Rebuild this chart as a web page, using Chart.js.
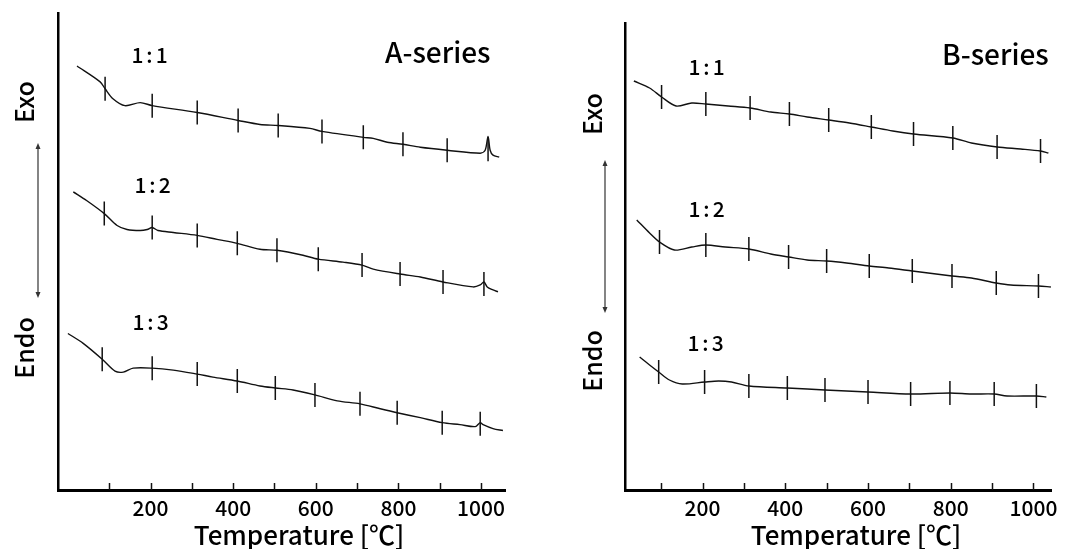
<!DOCTYPE html>
<html>
<head>
<meta charset="utf-8">
<script src="https://cdn.jsdelivr.net/npm/chart.js@4.4.1/dist/chart.umd.min.js"></script>
<style>
  html, body { margin: 0; padding: 0; background: #fff; }
  #wrap { position: relative; width: 1069px; height: 549px; overflow: hidden; }
  canvas { position: absolute; top: 0; }
  #cA { left: 0; }
  #cB { left: 535px; }
</style>
</head>
<body>
<div id="wrap">
  <canvas id="cA" width="535" height="549"></canvas>
  <canvas id="cB" width="534" height="549"></canvas>
</div>
<script>
// DTA curves, temperature in °C, signal in arbitrary units (curves offset vertically)
const X_TICKS = [100, 200, 300, 400, 500, 600, 700, 800, 900, 1000];
const X_LABELS = ['', '200', '', '400', '', '600', '', '800', '', '1000'];

// A-series
const A11_T = [22, 78, 90, 109, 138, 175, 204, 313, 412, 465, 509, 586, 615, 715, 739, 773, 811, 853, 918, 998, 1010, 1017, 1022, 1029, 1044];
const A11_Y = [428, 412, 405, 395, 388, 391, 388, 381, 373, 369, 368, 365, 362, 356, 355, 351, 349, 346, 343, 340, 343, 357, 343, 338, 336];
const A11_MARK_T = [90, 204, 313, 412, 509, 615, 715, 811, 918, 1017];
const A11_MARK_Y = [405, 388, 381, 373, 368, 362, 356, 349, 343, 344];

const A12_T = [13, 46, 88, 119, 143, 175, 192, 204, 218, 255, 313, 361, 410, 465, 506, 569, 606, 666, 712, 739, 804, 853, 908, 981, 998, 1007, 1015, 1029, 1041];
const A12_Y = [301, 292, 279, 267, 263, 262, 263, 265, 262, 260, 257, 253, 249, 243, 242, 237, 233, 230, 227, 223, 218, 215, 210, 205, 207, 210, 205, 202, 200];
const A12_MARK_T = [88, 204, 313, 410, 506, 606, 712, 804, 908, 1007];
const A12_MARK_Y = [279, 265, 257, 249, 242, 233, 227, 218, 210, 208];

const A13_T = [0, 37, 83, 114, 134, 158, 204, 255, 313, 351, 410, 465, 502, 545, 598, 652, 707, 756, 797, 853, 906, 949, 986, 998, 1005, 1029, 1053];
const A13_Y = [158, 148, 132, 120, 119, 123, 123, 121, 117, 114, 110, 105, 103, 101, 96, 90, 87, 82, 78, 73, 68, 66, 64, 68, 66, 62, 60];
const A13_MARK_T = [83, 204, 313, 410, 502, 598, 707, 797, 906, 998];
const A13_MARK_Y = [132, 123, 117, 110, 103, 96, 87, 78, 68, 67];

// B-series
const B11_T = [34, 72, 101, 136, 174, 208, 262, 315, 365, 410, 453, 505, 555, 608, 660, 710, 805, 850, 912, 969, 1017, 1036];
const B11_Y = [409, 402, 393, 384, 387, 386, 384, 382, 378, 376, 373, 370, 367, 363, 359, 356, 352, 347, 343, 341, 339, 337];
const B11_MARK_T = [101, 208, 315, 410, 505, 608, 710, 805, 912, 1017];
const B11_MARK_Y = [393, 386, 382, 376, 370, 363, 356, 352, 343, 339];

const B12_T = [41, 72, 96, 132, 174, 208, 255, 312, 365, 408, 453, 500, 548, 603, 650, 707, 803, 850, 910, 945, 1012, 1042];
const B12_Y = [270, 257, 248, 240, 243, 245, 243, 241, 236, 233, 230, 229, 227, 224, 222, 219, 214, 212, 207, 205, 204, 203];
const B12_MARK_T = [96, 208, 312, 408, 500, 603, 707, 803, 910, 1012];
const B12_MARK_Y = [248, 245, 241, 233, 229, 224, 219, 214, 207, 204];

const B13_T = [48, 72, 94, 120, 151, 205, 239, 270, 312, 405, 453, 496, 600, 703, 798, 850, 905, 936, 1007, 1031];
const B13_Y = [133, 125, 118, 110, 106, 108, 109, 108, 104, 102, 101, 100, 98, 96, 97, 96, 96, 94, 94, 93];
const B13_MARK_T = [94, 205, 312, 405, 496, 600, 703, 798, 905, 1007];
const B13_MARK_Y = [118, 108, 104, 102, 100, 98, 96, 97, 96, 94];

const FONT = '"Noto Sans CJK JP", "Noto Sans", sans-serif';
const INK = '#111';

const zip = (xs, ys) => xs.map((x, i) => ({ x, y: ys[i] }));

function curve(t, y) {
  return {
    data: zip(t, y),
    borderColor: INK,
    borderWidth: 1.4,
    pointRadius: 0,
    tension: 0.3,
    fill: false,
  };
}

function marks(t, y) {
  return {
    data: zip(t, y),
    showLine: false,
    pointStyle: 'line',
    rotation: 90,
    pointRadius: 12,
    borderColor: INK,
    borderWidth: 1.5,
  };
}

// texts, Exo/Endo arrow and inward x ticks drawn on top of the chart
function decor(cfg) {
  return {
    id: 'decor',
    afterDraw(chart) {
      const ctx = chart.ctx;
      const xs = chart.scales.x;
      const bottom = chart.chartArea.bottom;
      ctx.save();
      ctx.strokeStyle = INK;
      ctx.lineWidth = 1.5;
      xs.ticks.forEach(t => {
        const px = Math.round(xs.getPixelForValue(t.value)) + 0.5;
        ctx.beginPath();
        ctx.moveTo(px, bottom);
        ctx.lineTo(px, bottom - 7);
        ctx.stroke();
      });

      ctx.fillStyle = '#000';
      cfg.labels.forEach(l => {
        ctx.save();
        ctx.font = l.font;
        ctx.letterSpacing = l.spacing || '0px';
        ctx.textAlign = l.align || 'center';
        ctx.textBaseline = 'middle';
        ctx.translate(l.x, l.y);
        if (l.rot) ctx.rotate(l.rot);
        ctx.fillText(l.text, 0, 0);
        ctx.restore();
      });

      const a = cfg.arrow;
      ctx.strokeStyle = '#333';
      ctx.fillStyle = '#333';
      ctx.lineWidth = 1.2;
      ctx.beginPath();
      ctx.moveTo(a.x, a.y1 + 4);
      ctx.lineTo(a.x, a.y2 - 4);
      ctx.stroke();
      ctx.beginPath();
      ctx.moveTo(a.x, a.y1); ctx.lineTo(a.x - 2.5, a.y1 + 6); ctx.lineTo(a.x + 2.5, a.y1 + 6);
      ctx.closePath(); ctx.fill();
      ctx.beginPath();
      ctx.moveTo(a.x, a.y2); ctx.lineTo(a.x - 2.5, a.y2 - 6); ctx.lineTo(a.x + 2.5, a.y2 - 6);
      ctx.closePath(); ctx.fill();
      ctx.restore();
    },
  };
}

function makeChart(id, datasets, o) {
  return new Chart(document.getElementById(id), {
    type: 'line',
    data: { datasets },
    options: {
      responsive: false,
      animation: false,
      events: [],
      layout: { padding: { top: o.padTop, right: o.padRight, left: 0, bottom: 0 } },
      plugins: { legend: { display: false }, tooltip: { enabled: false } },
      scales: {
        x: {
          type: 'linear',
          min: o.xMin,
          max: o.xMax,
          afterBuildTicks: s => { s.ticks = X_TICKS.map(v => ({ value: v })); },
          afterFit: s => { s.height = 59; },
          grid: { display: false, drawTicks: true, tickLength: -6 },
          border: { display: true, color: '#000', width: 3 },
          ticks: {
            color: '#000',
            padding: 11,
            maxRotation: 0,
            autoSkip: false,
            font: { family: FONT, size: 21, weight: '500' },
            callback: (v, i) => X_LABELS[i],
          },
        },
        y: {
          type: 'linear',
          min: 0,
          max: o.yMax,
          afterFit: s => { s.width = o.yWidth; },
          grid: { display: false },
          border: { display: true, color: '#000', width: 2.5 },
          ticks: { display: false },
        },
      },
    },
    plugins: [decor(o.decor)],
  });
}

const F_SMALL = `500 21px ${FONT}`;
const F_SIDE = `500 25px ${FONT}`;
const F_TITLE = `500 28px ${FONT}`;
const F_AXIS = `500 26px ${FONT}`;

makeChart('cA', [
  curve(A11_T, A11_Y), marks(A11_MARK_T, A11_MARK_Y),
  curve(A12_T, A12_Y), marks(A12_MARK_T, A12_MARK_Y),
  curve(A13_T, A13_Y), marks(A13_MARK_T, A13_MARK_Y),
], {
  xMin: -24, xMax: 1058, yMax: 481, yWidth: 58, padTop: 9, padRight: 30,
  decor: {
    labels: [
      { text: '1:1', x: 151, y: 55, font: F_SMALL, spacing: '3px' },
      { text: '1:2', x: 154, y: 185, font: F_SMALL, spacing: '3px' },
      { text: '1:3', x: 152, y: 322, font: F_SMALL, spacing: '3px' },
      { text: 'A-series', x: 385, y: 52, font: F_TITLE, align: 'left' },
      { text: 'Exo', x: 24, y: 102, font: F_SIDE, rot: -Math.PI / 2 },
      { text: 'Endo', x: 24, y: 348, font: F_SIDE, rot: -Math.PI / 2 },
      { text: 'Temperature [℃]', x: 299, y: 535, font: F_AXIS },
    ],
    arrow: { x: 38, y1: 143, y2: 298 },
  },
});

makeChart('cB', [
  curve(B11_T, B11_Y), marks(B11_MARK_T, B11_MARK_Y),
  curve(B12_T, B12_Y), marks(B12_MARK_T, B12_MARK_Y),
  curve(B13_T, B13_Y), marks(B13_MARK_T, B13_MARK_Y),
], {
  xMin: 12.6, xMax: 1043, yMax: 467, yWidth: 90, padTop: 23, padRight: 11,
  decor: {
    labels: [
      { text: '1:1', x: 708 - 535, y: 67, font: F_SMALL, spacing: '3px' },
      { text: '1:2', x: 708 - 535, y: 209, font: F_SMALL, spacing: '3px' },
      { text: '1:3', x: 707 - 535, y: 343, font: F_SMALL, spacing: '3px' },
      { text: 'B-series', x: 942 - 535, y: 54, font: F_TITLE, align: 'left' },
      { text: 'Exo', x: 592 - 535, y: 114, font: F_SIDE, rot: -Math.PI / 2 },
      { text: 'Endo', x: 592 - 535, y: 361, font: F_SIDE, rot: -Math.PI / 2 },
      { text: 'Temperature [℃]', x: 856 - 535, y: 535, font: F_AXIS },
    ],
    arrow: { x: 605 - 535, y1: 160, y2: 313 },
  },
});
</script>
</body>
</html>
